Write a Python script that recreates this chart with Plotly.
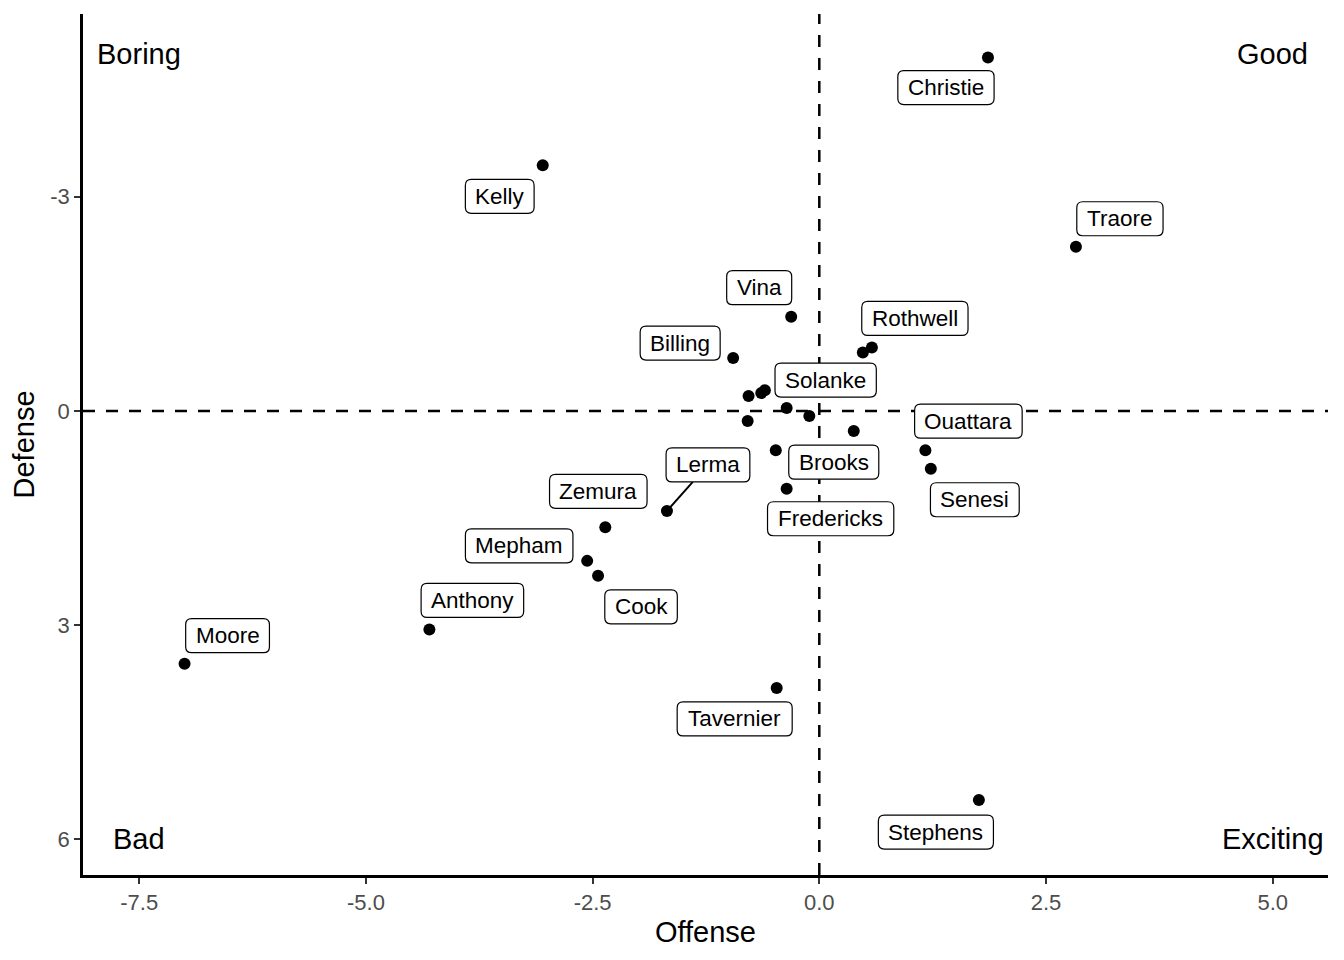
import plotly.graph_objects as go

# ---- data ----
players = ["Christie", "Kelly", "Traore", "Vina", "Rothwell", "", "Billing",
           "", "", "", "Solanke", "", "", "", "Ouattara", "Senesi",
           "Brooks", "Fredericks", "Lerma", "Zemura", "Mepham", "Cook",
           "Anthony", "Moore", "Tavernier", "Stephens"]
offense = [1.86, -3.05, 2.83, -0.31, 0.58, 0.48, -0.95,
           -0.78, -0.64, -0.60, -0.36, -0.11, -0.79, 0.38, 1.17, 1.23,
           -0.48, -0.36, -1.68, -2.36, -2.56, -2.44,
           -4.30, -7.00, -0.47, 1.76]
defense = [-4.95, -3.44, -2.30, -1.32, -0.89, -0.82, -0.74,
           -0.21, -0.25, -0.29, -0.04, 0.07, 0.14, 0.28, 0.55, 0.81,
           0.55, 1.09, 1.40, 1.63, 2.10, 2.31,
           3.06, 3.54, 3.88, 5.45]

# label offsets in pixels (dx right, dy down) relative to each point
label_dx = [-42, -43, 44, -32, 43, 0, -53,
            0, 0, 0, 39, 0, 0, 0, 43, 44,
            58, 44, 41, -7, -68, 43,
            43, 43, -42, -43]
label_dy = [30, 31, -28, -29, -29, 0, -15,
            0, 0, 0, -28, 0, 0, 0, -29, 31,
            12, 30, -46, -36, -15, 31,
            -29, -28, 31, 32]
segment_labels = ["Lerma"]

quad_text = ["Boring", "Good", "Bad", "Exciting"]
quad_x = [-7.5, 5.0, -7.5, 5.0]
quad_y = [-5.0, -5.0, 6.0, 6.0]

x_ticks = [-7.5, -5.0, -2.5, 0.0, 2.5, 5.0]
x_ticklabels = ["-7.5", "-5.0", "-2.5", "0.0", "2.5", "5.0"]
y_ticks = [-3, 0, 3, 6]
y_ticklabels = ["-3", "0", "3", "6"]

FONT = "Liberation Sans, Arial, Helvetica, sans-serif"
LABEL_SIZE = 22.5

# Helvetica/Arial advance widths (per 1000 em) for estimating label box widths
CW = {c: 556 for c in "abcdeghnopqu0123456789"}
CW.update({"f": 278, "i": 222, "j": 222, "l": 222, "r": 333, "t": 278, "s": 500,
           "k": 500, "v": 500, "x": 500, "y": 500, "z": 500, "w": 722, "m": 833,
           "A": 667, "B": 667, "C": 722, "D": 722, "E": 667, "F": 611, "G": 778,
           "K": 667, "L": 556, "M": 833, "O": 778, "R": 722, "S": 667, "T": 611,
           "V": 667, "Z": 611})


def text_w(s):
    return sum(CW.get(c, 556) for c in s) / 1000 * LABEL_SIZE


def rounded_rect(cx, cy, w, h, r):
    x0, x1 = cx - w / 2, cx + w / 2
    y0, y1 = cy - h / 2, cy + h / 2
    return (f"M {x0 + r},{y0} L {x1 - r},{y0} Q {x1},{y0} {x1},{y0 + r} "
            f"L {x1},{y1 - r} Q {x1},{y1} {x1 - r},{y1} L {x0 + r},{y1} "
            f"Q {x0},{y1} {x0},{y1 - r} L {x0},{y0 + r} Q {x0},{y0} {x0 + r},{y0} Z")


fig = go.Figure()
fig.add_trace(go.Scatter(x=offense, y=defense, mode="markers",
                         marker=dict(color="black", size=12),
                         hoverinfo="skip", showlegend=False))

# dashed reference lines
fig.add_shape(type="line", xref="x", yref="paper", x0=0, x1=0, y0=0, y1=1,
              line=dict(color="black", width=2.5, dash="12px,11px"), layer="below")
fig.add_shape(type="line", xref="paper", yref="y", x0=0, x1=1, y0=0, y1=0,
              line=dict(color="black", width=2.5, dash="12px,11px"), layer="below")

annotations = []
BOX_H = 34
for name, xv, yv, dx, dy in zip(players, offense, defense, label_dx, label_dy):
    if not name:
        continue
    w = text_w(name) + 20
    cx, cy = dx, -dy  # pixel offsets, y up
    if name in segment_labels:
        # segment from point to box edge
        fx = (w / 2) / abs(cx) if cx else 1e9
        fy = (BOX_H / 2) / abs(cy) if cy else 1e9
        f = min(fx, fy)
        ex, ey = cx * (1 - f), cy * (1 - f)
        fig.add_shape(type="line", xref="x", yref="y", xsizemode="pixel",
                      ysizemode="pixel", xanchor=xv, yanchor=yv,
                      x0=0, y0=0, x1=ex, y1=ey,
                      line=dict(color="black", width=2), layer="above")
    fig.add_shape(type="path", xref="x", yref="y", xsizemode="pixel",
                  ysizemode="pixel", xanchor=xv, yanchor=yv,
                  path=rounded_rect(cx, cy, w, BOX_H, 6),
                  fillcolor="white", line=dict(color="black", width=1.2),
                  layer="above")
    annotations.append(dict(
        x=xv, y=yv, xref="x", yref="y", text=name, showarrow=False,
        xshift=cx, yshift=cy,
        font=dict(family=FONT, size=LABEL_SIZE, color="black"),
    ))
for t, xv, yv in zip(quad_text, quad_x, quad_y):
    annotations.append(dict(x=xv, y=yv, xref="x", yref="y", text=t,
                            showarrow=False,
                            font=dict(family=FONT, size=29, color="black")))

fig.update_layout(
    width=1344, height=960,
    margin=dict(l=75, r=24, t=6, b=93),
    paper_bgcolor="white", plot_bgcolor="white",
    font=dict(family=FONT, color="black"),
    annotations=annotations,
    xaxis=dict(range=[-8.12, 5.61], tickvals=x_ticks, ticktext=x_ticklabels,
               showgrid=False, zeroline=False, showline=True,
               linecolor="black", linewidth=2.5, ticks="outside", ticklen=6,
               tickwidth=2, tickcolor="#333333",
               tickfont=dict(family=FONT, size=22, color="#4D4D4D"),
               title=dict(text="Offense", standoff=8,
                          font=dict(family=FONT, size=29, color="black"))),
    yaxis=dict(range=[6.5, -5.56], tickvals=y_ticks, ticktext=y_ticklabels,
               showgrid=False, zeroline=False, showline=True,
               linecolor="black", linewidth=2.5, ticks="outside", ticklen=6,
               tickwidth=2, tickcolor="#333333",
               tickfont=dict(family=FONT, size=22, color="#4D4D4D"),
               title=dict(text="Defense", standoff=10,
                          font=dict(family=FONT, size=29, color="black"))),
)

fig.write_html("out.html")
